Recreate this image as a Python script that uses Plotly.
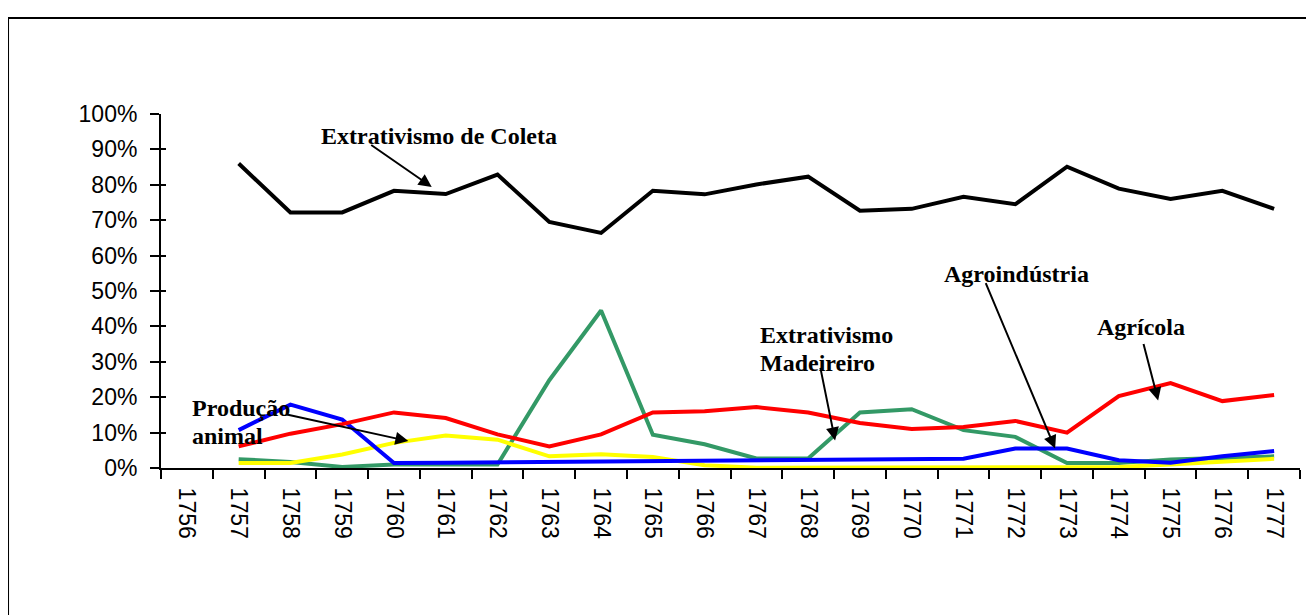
import plotly.graph_objects as go

years = [str(y) for y in range(1756, 1778)]

# Shares (fraction of total), one value per year; 1756 has no data
coleta = [None, 0.86, 0.722, 0.722, 0.783, 0.774, 0.829, 0.695, 0.664, 0.783, 0.773,
          0.801, 0.823, 0.727, 0.732, 0.766, 0.745, 0.851, 0.789, 0.760, 0.783, 0.732]
agricola = [None, 0.061, 0.097, 0.124, 0.157, 0.141, 0.095, 0.061, 0.095, 0.157, 0.160,
            0.172, 0.157, 0.127, 0.110, 0.116, 0.133, 0.100, 0.203, 0.240, 0.189, 0.206]
madeireiro = [None, 0.025, 0.017, 0.003, 0.010, 0.010, 0.010, 0.248, 0.445, 0.094, 0.067,
              0.027, 0.027, 0.157, 0.166, 0.107, 0.088, 0.014, 0.014, 0.024, 0.029, 0.033]
agroindustria = [None, 0.107, 0.179, 0.137, 0.014, 0.015, 0.016, 0.017, 0.018, 0.019, 0.020,
                 0.021, 0.022, 0.023, 0.024, 0.026, 0.055, 0.055, 0.022, 0.015, 0.033, 0.048]
animal = [None, 0.014, 0.014, 0.038, 0.071, 0.092, 0.080, 0.033, 0.039, 0.031, 0.008,
          0.001, 0.001, 0.001, 0.001, 0.001, 0.001, 0.001, 0.003, 0.010, 0.019, 0.026]

yticks = [i / 10 for i in range(11)]
yticktext = [f"{i * 10}%" for i in range(11)]

series = [
    ("Extrativismo de Coleta", coleta, "#000000"),
    ("Extrativismo Madeireiro", madeireiro, "#339966"),
    ("Produção animal", animal, "#FFFF00"),
    ("Agroindústria", agroindustria, "#0000FF"),
    ("Agrícola", agricola, "#FF0000"),
]

fig = go.Figure()
for name, vals, col in series:
    fig.add_trace(go.Scatter(x=years, y=vals, name=name, mode="lines",
                             line=dict(color=col, width=4), hoverinfo="skip",
                             connectgaps=False))
# empty trace to host the overlay axis that draws the inner half of the y ticks
fig.add_trace(go.Scatter(x=[], y=[], yaxis="y2", hoverinfo="skip", showlegend=False))

lab_font = dict(family="Liberation Serif", size=24, color="black")
arrow = dict(showarrow=True, arrowhead=2, arrowsize=1.3, arrowwidth=2,
             arrowcolor="black", standoff=0, startstandoff=0, xref="x", yref="y",
             axref="pixel", ayref="pixel", text="")


def label(x, y, text, anchor="center"):
    return dict(x=x, y=y, text=f"<b>{text}</b>", showarrow=False, xref="x", yref="y",
                font=lab_font, xanchor=anchor, yanchor="middle")


annotations = [
    label(4.87, 0.938, "Extrativismo de Coleta"),
    label(16.02, 0.547, "Agroindústria"),
    label(18.43, 0.398, "Agrícola"),
    label(11.03, 0.375, "Extrativismo", "left"),
    label(11.03, 0.296, "Madeireiro", "left"),
    label(0.06, 0.169, "Produção", "left"),
    label(0.06, 0.090, "animal", "left"),
    # arrows
    dict(arrow, x=4.729, y=0.794, ax=-62, ay=-43),
    dict(arrow, x=16.77, y=0.055, ax=-70, ay=-167),
    dict(arrow, x=18.76, y=0.191, ax=-15, ay=-58),
    dict(arrow, x=12.52, y=0.078, ax=-15, ay=-74),
    dict(arrow, x=4.277, y=0.076, ax=-123, ay=-27),
]

fig.update_layout(
    width=1314, height=615,
    margin=dict(l=153, r=22, t=106, b=155, pad=0),
    paper_bgcolor="white", plot_bgcolor="white",
    showlegend=False,
    font=dict(family="Liberation Sans", size=23, color="black"),
    annotations=annotations,
    shapes=[dict(type="rect", xref="paper", yref="paper",
                 x0=-0.1343, x1=1.0114, y0=-0.45, y1=1.2714,
                 line=dict(color="black", width=2), fillcolor="rgba(0,0,0,0)",
                 layer="below")],
    yaxis2=dict(overlaying="y", side="left", range=[0, 1], tickvals=yticks,
                ticks="inside", ticklen=5, tickwidth=2, tickcolor="black",
                showticklabels=False, showgrid=False, zeroline=False, showline=False),
)
fig.update_xaxes(type="category", categoryorder="array", categoryarray=years,
                 range=[-0.5, 21.5], tickson="boundaries", ticks="outside", ticklen=9,
                 tickwidth=2, tickcolor="black", showline=True, linecolor="black",
                 linewidth=2, showgrid=False, zeroline=False, tickangle=90,
                 tickfont=dict(family="Liberation Sans", size=23, color="black"),
                 ticklabelstandoff=13)
fig.update_yaxes(selector=dict(anchor=None), overwrite=False)
fig.layout.yaxis.update(range=[0, 1], tickvals=yticks, ticktext=yticktext, ticks="outside",
                        ticklen=9, tickwidth=2, tickcolor="black", showline=True,
                        linecolor="black", linewidth=2, showgrid=False, zeroline=False,
                        tickfont=dict(family="Liberation Sans", size=23, color="black"),
                        ticklabelstandoff=8)

fig.write_html("out.html")
